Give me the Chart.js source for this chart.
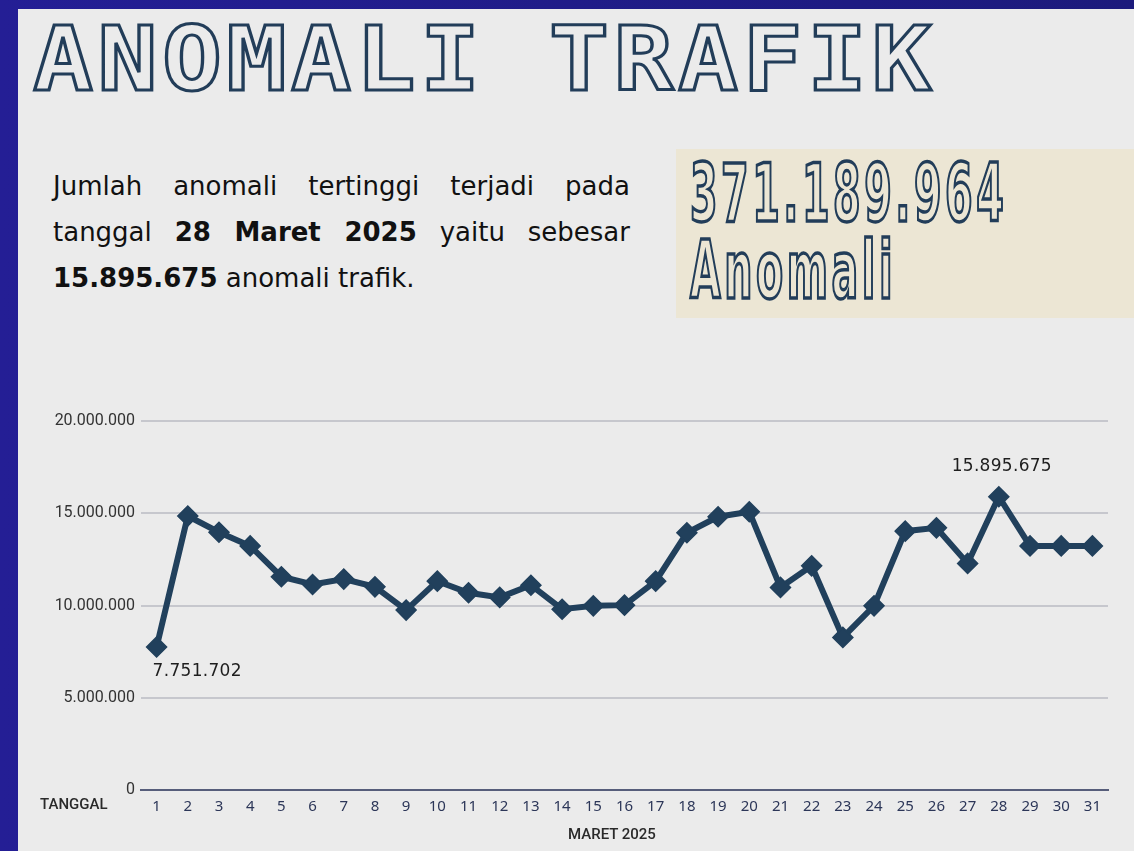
<!DOCTYPE html>
<html lang="id">
<head>
<meta charset="utf-8">
<title>Anomali Trafik</title>
<script src="https://cdn.jsdelivr.net/npm/chart.js@4.4.1/dist/chart.umd.min.js"></script>
<style>
  html, body { margin: 0; padding: 0; }
  body {
    width: 1134px; height: 851px; overflow: hidden; position: relative;
    background: linear-gradient(90deg, #241e95 0%, #1c1a7c 100%);
  }
  .panel { position: absolute; left: 18px; top: 9px; right: 0; bottom: 0; background: #ebebeb; }
  .judul {
    position: absolute; left: 33px; top: 15px; margin: 0;
    font: bold 89px "DejaVu Sans Mono", monospace; line-height: 1;
    letter-spacing: 4px; white-space: nowrap;
    color: transparent; -webkit-text-stroke: 3px #223d59;
    transform: scaleX(1.12); transform-origin: left top;
  }
  .ringkasan {
    position: absolute; left: 53px; top: 163px; width: 577px;
    font: 26px "DejaVu Sans", sans-serif; line-height: 46px; color: #111;
  }
  .ringkasan div { white-space: nowrap; }
  .ringkasan .rata { text-align: justify; text-align-last: justify; white-space: normal; }
  .ringkasan b { font-weight: bold; }
  .kotak { position: absolute; left: 676px; top: 149px; width: 458px; height: 169px; background: #ece6d4; }
  .total {
    position: absolute; left: 690px; top: 155px;
    font: bold 80px "DejaVu Sans Condensed", "DejaVu Sans", sans-serif; font-stretch: condensed;
    line-height: 77px; letter-spacing: 6.5px; white-space: nowrap;
    color: transparent; -webkit-text-stroke: 3.5px #223d59;
    transform: scaleX(0.55); transform-origin: left top;
  }
  .grafik { position: absolute; left: 18px; top: 395px; width: 1116px; height: 456px; }
  .sumbu { position: absolute; font: 500 15px Roboto, sans-serif; color: #2a2a2a; white-space: nowrap; }
</style>
</head>
<body>
<div class="panel"></div>
<h1 class="judul">ANOMALI TRAFIK</h1>

<div class="ringkasan">
  <div class="rata">Jumlah anomali tertinggi terjadi pada</div>
  <div class="rata">tanggal <b>28 Maret 2025</b> yaitu sebesar</div>
  <div><b>15.895.675</b> anomali trafik.</div>
</div>

<div class="kotak"></div>
<div class="total">371.189.964<br>Anomali</div>

<div class="grafik"><canvas id="anomaliChart"></canvas></div>
<div class="sumbu" style="left:40px; top:795px;">TANGGAL</div>
<div class="sumbu" style="left:568px; top:825px;">MARET 2025</div>

<script>
// data (Maret 2025)
const tanggal = ['1', '2', '3', '4', '5', '6', '7', '8', '9', '10', '11', '12', '13', '14', '15', '16',
                 '17', '18', '19', '20', '21', '22', '23', '24', '25', '26', '27', '28', '29', '30', '31'];
const jumlahAnomali = [7751702, 14850000, 13970000, 13230000, 11560000, 11140000, 11430000, 11010000,
                       9750000, 11320000, 10690000, 10440000, 11100000, 9800000, 9980000, 10020000,
                       11320000, 13940000, 14810000, 15080000, 10980000, 12150000, 8270000, 9980000,
                       14030000, 14210000, 12280000, 15895675, 13230000, 13230000, 13230000];
const sumbuYMin = 0;
const sumbuYMax = 20000000;
const sumbuYStep = 5000000;
const tanggalBerlabel = [0, 27]; // terendah & tertinggi

const warnaGaris = '#21405c';

function formatTitik(v) {
    return String(Math.round(v)).replace(/\B(?=(\d{3})+(?!\d))/g, '.');
}

// label nilai untuk titik terendah (di bawah) dan tertinggi (di atas)
const labelNilai = {
    id: 'labelNilai',
    afterDatasetsDraw(chart) {
        const ctx = chart.ctx;
        const meta = chart.getDatasetMeta(0);
        const data = chart.data.datasets[0].data;
        const maks = Math.max(...data);
        ctx.save();
        ctx.font = '17px "DejaVu Sans", sans-serif';
        ctx.fillStyle = '#1e1e1e';
        ctx.textBaseline = 'middle';
        if ('letterSpacing' in ctx) ctx.letterSpacing = '0.3px';
        tanggalBerlabel.forEach(i => {
            const p = meta.data[i];
            if (data[i] === maks) {
                ctx.textAlign = 'center';
                ctx.fillText(formatTitik(data[i]), p.x + 3, p.y - 30);
            } else {
                ctx.textAlign = 'left';
                ctx.fillText(formatTitik(data[i]), p.x - 4, p.y + 25);
            }
        });
        ctx.restore();
    }
};

new Chart(document.getElementById('anomaliChart').getContext('2d'), {
    type: 'line',
    data: {
        labels: tanggal,
        datasets: [{
            label: 'Anomali',
            data: jumlahAnomali,
            borderColor: warnaGaris,
            borderWidth: 6,
            tension: 0,
            pointStyle: 'rectRot',
            pointRadius: 10,
            pointBackgroundColor: warnaGaris,
            pointBorderColor: warnaGaris,
            pointBorderWidth: 1.5
        }]
    },
    options: {
        responsive: true,
        maintainAspectRatio: false,
        animation: false,
        layout: { padding: { top: 26, right: 26, bottom: 0, left: 0 } },
        plugins: { legend: { display: false }, tooltip: { enabled: false } },
        scales: {
            x: {
                offset: true,
                grid: { display: false, drawTicks: false },
                border: { color: '#565d7a', width: 2 },
                ticks: { color: '#2c3658', padding: 8, font: { family: '"Noto Sans", sans-serif', size: 15 } },
                afterFit: s => { s.height = 61; }
            },
            y: {
                min: sumbuYMin,
                max: sumbuYMax,
                ticks: {
                    stepSize: sumbuYStep,
                    color: '#333333',
                    padding: 6,
                    font: { family: 'Roboto, sans-serif', size: 16 },
                    callback: v => formatTitik(v)
                },
                grid: { color: '#c6c7cd', lineWidth: 2, drawTicks: false },
                border: { display: false },
                afterFit: s => { s.width = 123; }
            }
        }
    },
    plugins: [labelNilai]
});
</script>
</body>
</html>
